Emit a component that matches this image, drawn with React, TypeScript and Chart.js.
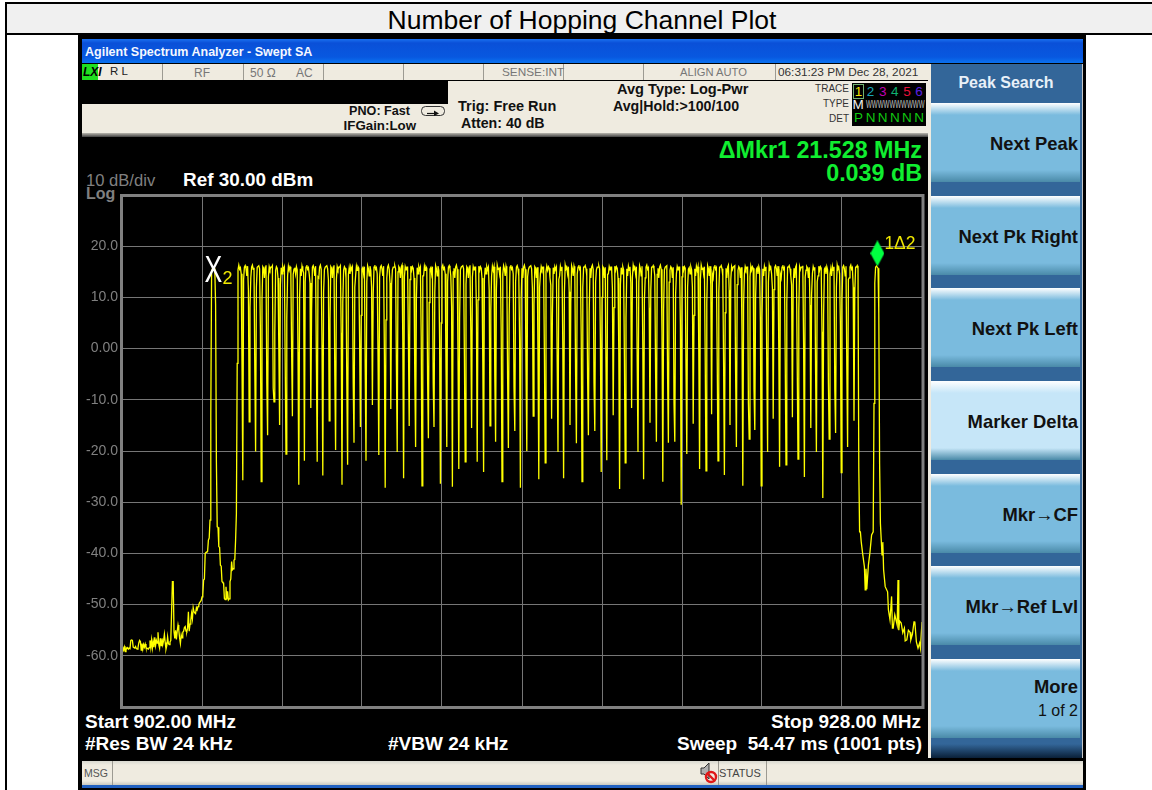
import React, { useEffect, useRef } from "react";
import { Chart, registerables } from "chart.js";

Chart.register(...registerables);

const FONT = '"Liberation Sans", Arial, sans-serif';

const startMHz = 902;
const stopMHz = 928;
const sweepPoints = 1001;
const sampleStepMHz = 0.026;
const firstNotchMHz = 905.932;
const channelSpacingMHz = 0.2005;
const yTickValues = [20, 10, 0, -10, -20, -30, -40, -50, -60];
const yTickLabels = ["20.0", "10.0", "0.00", "-10.0", "-20.0", "-30.0", "-40.0", "-50.0", "-60.0"];

// Noise floor and the first (X2) peak: one value per sweep point
const leftSkirtDb = [
  -58.2, -58.4, -58.9, -58.3, -59.2, -58.4, -58.6, -58.4, -58.7, -58.5,
  -58.6, -57.0, -56.9, -57.0, -58.3, -58.4, -58.5, -58.2, -58.6, -58.7,
  -58.4, -57.5, -57.0, -57.2, -58.9, -57.6, -58.7, -57.8, -58.3, -57.7,
  -58.4, -58.5, -58.6, -58.7, -58.4, -57.0, -58.4, -56.9, -58.5, -57.2,
  -58.3, -56.4, -58.0, -57.0, -57.5, -55.4, -57.8, -58.5, -56.6, -58.0,
  -56.6, -57.8, -57.0, -55.8, -57.4, -58.7, -58.0, -56.3, -57.6, -57.8,
  -57.3, -57.0, -51.4, -45.5, -45.5, -55.3, -56.6, -55.0, -56.8, -55.2,
  -54.0, -55.0, -56.5, -57.6, -55.9, -56.5, -55.4, -55.2, -54.5, -54.3,
  -55.2, -55.3, -54.6, -51.4, -55.2, -53.8, -53.0, -51.7, -52.8, -50.6,
  -51.4, -51.6, -51.7, -50.6, -51.0, -50.4, -50.0, -49.6, -49.4, -49.2,
  -48.5, -48.1, -45.2, -45.0, -40.0, -39.8, -39.7, -39.6, -37.4, -37.0,
  -33.5, -13.3, 15.0, 15.6, 15.9, 15.7, 15.5, 8.5, -22.1, -34.8,
  -34.9, -38.7, -38.8, -42.3, -42.5, -45.5, -45.7, -45.8, -48.8, -49.0,
  -46.5, -49.0, -47.4, -49.1, -48.9, -45.5, -45.0, -41.6, -43.2, -43.0,
  -41.3, -41.2, -37.4, -32.2, -2.9, 15.4,
];

// Deepest value of each notch between hopping channels
const notchFloorDb = [
  -25.7, -14.3, -20.1, -26.0, -16.9, -10.4, -14.9, -20.6, -13.2, -26.6,
  -21.9, -11.6, -22.1, -24.8, -14.1, -19.8, -26.6, -22.7, -18.4, -15.3,
  -21.9, -11.0, -20.8, -27.2, -11.8, -20.2, -25.3, -15.1, -19.2, -26.8,
  -17.5, -15.3, -26.4, -19.2, -27.0, -23.5, -22.1, -15.5, -22.1, -24.1,
  -15.1, -18.2, -26.0, -19.4, -16.1, -27.2, -20.0, -13.2, -25.5, -22.3,
  -13.7, -20.2, -25.3, -14.9, -18.5, -26.0, -16.9, -16.1, -24.1, -21.8,
  -13.0, -27.4, -22.3, -11.6, -20.2, -25.5, -14.5, -18.2, -26.0, -18.4,
  -18.2, -30.5, -20.6, -14.7, -23.5, -23.9, -12.8, -21.9, -24.7, -14.9,
  -19.2, -26.8, -17.7, -15.9, -26.8, -20.2, -13.7, -23.1, -22.7, -13.4,
  -21.6, -25.1, -15.5, -20.2, -29.2, -17.7, -16.5, -24.2, -19.2, -14.1,
];

// Level of the step on the falling side of each notch
const notchShoulderDb = [
  -3.2, 11.4, -4.2, 3.6, -6.7, -7.7, 0.7, -2.8, -0.3, -0.7,
  14.8, 12.8, -2.8, 0.7, 13.4, -5.2, 3.1, -6.5, -6.7, 1.7,
  -3.8, 12.0, -0.9, -1.2, 12.8, -3.2, 1.7, 1.7, -5.7, 2.3,
  -6.1, -6.7, 1.7, -3.8, 8.1, -0.9, -1.6, 3.6, 8.0, -2.6,
  11.4, -5.5, 3.1, -5.7, -7.5, 1.7, -3.8, 11.8, -1.2, -1.2,
  12.4, -3.0, 0.7, 11.1, -5.2, 2.7, -5.7, -6.7, 1.7, -3.6,
  11.8, -0.7, -1.8, 12.8, -2.6, 0.7, 8.0, -4.6, 3.1, -5.7,
  -10.6, 4.6, -3.8, 12.0, -0.7, -1.6, 12.4, -2.0, -3.2, 11.4,
  -4.6, 3.1, -10.6, -7.9, 5.2, -3.8, 11.8, -0.3, -1.8, 12.4,
  -2.8, 0.7, 8.5, -4.8, 3.3, -6.7, -8.1, 4.6, -3.4, 12.0,
];

// Level of the step on the rising side of each notch
const notchRiseDb = [
  13.5, 8.0, 12.0, 9.5, 14.0, 3.0, 12.5, 6.0, 14.5, 10.0,
  13.0, 7.5, 14.0, 11.0, 5.5, 13.5, 9.0, 14.5, 12.0, 6.5,
  13.0, 10.5, 14.0, 5.6, 12.4, 15.0, 14.0, 13.5, 9.9, 14.2,
  9.0, 11.0, 5.0, 13.0, 15.0, 6.0, 12.5, 14.0, 9.5, 13.5,
  7.5, 11.5, 14.5, 6.5, 13.0, 10.0, 14.0, 8.5, 12.0, 15.0,
  6.5, 13.5, 11.0, 9.0, 14.5, 12.0, 7.0, 13.0, 10.0, 14.5,
  8.0, 12.5, 6.0, 14.0, 13.0, 9.5, 11.5, 14.5, 7.5, 13.0,
  10.5, 14.0, 12.0, 6.5, 13.5, 9.0, 14.5, 11.0, 7.0, 13.5,
  12.5, 8.5, 14.0, 10.0, 6.0, 13.0, 11.5, 14.5, 9.0, 12.5,
  7.5, 14.0, 10.5, 13.0, 6.5, 14.5, 12.0, 9.5, 13.5, 11.0,
];

const channelTopDb = [15.9, 16.2, 15.6, 14.2, 16.1, 15.3, 16.0, 15.7, 13.8, 15.9, 16.3, 15.5, 15.8, 14.6, 16.0, 15.4, 15.9];

// Falling edge of the band, the last (marker 1) peak and the noise floor
const rightSkirtSample = [
  921, 922, 923, 924, 925, 926, 928, 929, 930, 931, 933, 935, 937, 939, 940, 941, 942, 943, 944, 945, 946, 947, 948,
  950, 951, 952, 954, 957, 958, 960, 962, 963, 964, 966, 969, 970, 971, 972, 974, 976, 978, 979, 981, 983, 985, 986,
  988, 990, 991, 993, 995, 997, 998, 1000,
];
const rightSkirtDb = [
  -23.4, -35.8, -35.8, -37.7, -37.7, -40.3, -42.6, -47.1, -43.0, -47.0, -42.3, -39.7, -36.4, -35.8, -10.7, 12.8, 15.9, 16.1, 15.9, 15.7, 6.9, -22.4, -34.1,
  -40.3, -37.8, -43.2, -46.5, -47.5, -51.0, -53.0, -48.4, -54.6, -54.6, -52.0, -54.0, -45.2, -55.0, -53.2, -53.6, -55.5, -54.6, -57.1, -56.9, -55.0, -55.4, -56.9,
  -55.8, -53.4, -53.3, -57.3, -58.5, -57.5, -58.5, -53.4,
];

const referenceMarkerMHz = [904.97];
const deltaMarkerMHz = [926.55];
const deltaMarkerDb = [18.6];
const deltaMarkerLabel = "1Δ2";
const referenceMarkerLabel = ["X", "2"];

const softKeys = ["Next Peak", "Next Pk Right", "Next Pk Left", "Marker Delta", "Mkr→CF", "Mkr→Ref Lvl", "More"];
const traceDigits = ["1", "2", "3", "4", "5", "6"];
const traceColors = ["#f4e600", "#19a8b8", "#c000b0", "#10b070", "#e8103a", "#5a20e0"];
const detectors = ["P", "N", "N", "N", "N", "N"];

function buildTrace() {
  const y: number[] = [];
  leftSkirtDb.forEach((v) => y.push(v));
  const lastChannelSample = rightSkirtSample[0] - 1;
  for (let s = y.length; s <= lastChannelSample; s++) y.push(channelTopDb[s % channelTopDb.length]);
  notchFloorDb.forEach((floor, k) => {
    const n = Math.round((firstNotchMHz + k * channelSpacingMHz - startMHz) / sampleStepMHz);
    y[n - 1] = notchShoulderDb[k];
    y[n] = floor;
    y[n + 1] = notchRiseDb[k];
  });
  const pts = y.map((v, s) => ({ x: startMHz + s * sampleStepMHz, y: v }));
  rightSkirtSample.forEach((s, i) => pts.push({ x: startMHz + s * sampleStepMHz, y: rightSkirtDb[i] }));
  return pts;
}

function diamond() {
  const c = document.createElement("canvas");
  c.width = 14;
  c.height = 26;
  const g = c.getContext("2d")!;
  g.fillStyle = "#00ff40";
  g.beginPath();
  g.moveTo(7, 0);
  g.lineTo(14, 13);
  g.lineTo(7, 26);
  g.lineTo(0, 13);
  g.closePath();
  g.fill();
  return c;
}

type LblProps = { x: number; y: number; a?: "l" | "r" | "c"; s?: number; b?: boolean; i?: boolean; c?: string; ls?: number; sx?: number; children: React.ReactNode };
function Lbl({ x, y, a = "l", s = 12, b = false, i = false, c = "#000", ls = 0, sx = 1, children }: LblProps) {
  const tx = a === "c" ? "-50%" : a === "r" ? "-100%" : "0";
  const origin = a === "c" ? "center" : a === "r" ? "right" : "left";
  return (
    <div
      style={{
        position: "absolute",
        left: x,
        top: y,
        transform: `translate(${tx},-50%) scaleX(${sx})`,
        transformOrigin: origin,
        font: `${i ? "italic " : ""}${b ? "bold " : ""}${s}px ${FONT}`,
        color: c,
        letterSpacing: ls,
        whiteSpace: "pre",
        lineHeight: 1,
      }}
    >
      {children}
    </div>
  );
}

function Box({ x, y, w, h, bg, extra }: { x: number; y: number; w: number; h: number; bg: string; extra?: React.CSSProperties }) {
  return <div style={{ position: "absolute", left: x, top: y, width: w, height: h, background: bg, ...extra }} />;
}

const BEIGE = "#efebe0";
const DIV = "#9c9a92";

export default function App() {
  const ref = useRef<HTMLCanvasElement>(null);
  useEffect(() => {
    const markerImg = diamond();
    const overlay = {
      id: "overlay",
      afterDraw(chart: any) {
        const { ctx, chartArea: a, scales } = chart;
        ctx.save();
        ctx.strokeStyle = "#808080";
        ctx.lineWidth = 3;
        ctx.strokeRect(a.left - 0.5, a.top + 0.5, a.right - a.left + 1.5, a.bottom - a.top);
        const px = scales.x.getPixelForValue(referenceMarkerMHz[0]);
        const dx = scales.x.getPixelForValue(deltaMarkerMHz[0]);
        const dy = scales.y.getPixelForValue(deltaMarkerDb[0]);
        ctx.textBaseline = "alphabetic";
        ctx.fillStyle = "#ffffff";
        ctx.font = `37px ${FONT}`;
        ctx.save();
        ctx.translate(px - 9, 282);
        ctx.scale(0.72, 1);
        ctx.fillText(referenceMarkerLabel[0], 0, 0);
        ctx.restore();
        ctx.fillStyle = "#f0e800";
        ctx.font = `18px ${FONT}`;
        ctx.fillText(referenceMarkerLabel[1], px + 9, 284);
        ctx.font = `17.5px ${FONT}`;
        ctx.fillText(deltaMarkerLabel, dx + 7, dy - 4);
        ctx.restore();
      },
    };
    const chart = new Chart(ref.current!, {
      type: "line",
      data: {
        datasets: [
          {
            data: buildTrace(),
            borderColor: "#ffff00",
            borderWidth: 1.3,
            pointRadius: 0,
            tension: 0,
            fill: false,
          },
          {
            data: deltaMarkerMHz.map((x, i) => ({ x, y: deltaMarkerDb[i] })),
            showLine: false,
            pointStyle: markerImg as any,
            pointRadius: 7,
            borderWidth: 0,
          },
        ],
      },
      options: {
        animation: false,
        responsive: false,
        events: [],
        layout: { padding: { left: 80, top: 195, right: 230, bottom: 83 } },
        plugins: { legend: { display: false }, title: { display: false }, tooltip: { enabled: false } },
        scales: {
          x: {
            type: "linear",
            min: startMHz,
            max: stopMHz,
            ticks: { stepSize: 2.6, display: false, includeBounds: true },
            grid: { color: "#767676", lineWidth: 1, drawTicks: false },
            border: { display: false },
            afterFit: (s: any) => { s.height = 0; },
          },
          y: {
            type: "linear",
            min: -70,
            max: 30,
            ticks: {
              stepSize: 10,
              padding: 4,
              color: "#808080",
              font: { family: "Liberation Sans", size: 14 },
              callback: (v: any) => {
                const i = yTickValues.indexOf(Number(v));
                return i >= 0 ? yTickLabels[i] : "";
              },
            },
            grid: { color: "#767676", lineWidth: 1, drawTicks: false },
            border: { display: false },
            afterFit: (s: any) => { s.width = 42; },
          },
        },
      },
      plugins: [overlay],
    } as any);
    return () => chart.destroy();
  }, []);

  const keyTop = (i: number) => 103 + Math.round(i * 92.67);

  return (
    <div style={{ position: "fixed", left: 0, top: 0, width: 1152, height: 790, background: "#fff", overflow: "hidden" }}>
      {/* document table */}
      <Box x={5} y={2} w={1147} h={2} bg="#000" />
      <Box x={7} y={4} w={1145} h={29} bg="#f0f0f0" />
      <Box x={5} y={33} w={1147} h={2} bg="#000" />
      <Box x={5} y={2} w={2} h={788} bg="#000" />
      <Lbl x={582} y={20} a="c" s={26.5}>Number of Hopping Channel Plot</Lbl>

      {/* instrument frame */}
      <Box x={78} y={35} w={1008} h={755} bg="#000" />
      <Box x={82} y={39} w={1001} h={24} bg="linear-gradient(#1a70f0 0,#0a50d8 4px,#0858e0 18px,#0a72f0 24px)" />
      <Lbl x={85} y={52} s={12.5} b c="#f4f8ff">Agilent Spectrum Analyzer - Swept SA</Lbl>

      {/* status row */}
      <Box x={82} y={64} w={846} h={16} bg={BEIGE} />
      <Box x={82} y={64} w={16} h={16} bg="#20e020" />
      <Lbl x={83} y={72} s={12} b i c="#000">LXI</Lbl>
      <Lbl x={110} y={72} s={11.5} c="#222">R L</Lbl>
      {[162, 243, 323, 403, 483, 563, 643, 775].map((x) => (
        <Box key={x} x={x} y={64} w={1} h={16} bg={DIV} />
      ))}
      <Lbl x={202} y={73} a="c" s={12} c="#777">RF</Lbl>
      <Lbl x={250} y={73} s={12} c="#777">50 Ω</Lbl>
      <Lbl x={296} y={73} s={12} c="#777">AC</Lbl>
      <Lbl x={502} y={73} s={11.8} c="#777">SENSE:INT</Lbl>
      <Lbl x={680} y={73} s={11.2} c="#777">ALIGN AUTO</Lbl>
      <Lbl x={778} y={73} s={11.8} c="#333">06:31:23 PM Dec 28, 2021</Lbl>

      {/* settings block */}
      <Box x={82} y={81} w={846} h={52} bg={BEIGE} />
      <Box x={82} y={81} w={366} h={23} bg="#000" />
      <Box x={82} y={133} w={846} h={4} bg="linear-gradient(#b8b6ae,#404040)" />
      <Lbl x={410} y={111} a="r" s={12.6} b c="#111">PNO: Fast</Lbl>
      <Lbl x={416} y={126} a="r" s={13.3} b c="#111">IFGain:Low</Lbl>
      <svg style={{ position: "absolute", left: 421, top: 104, width: 24, height: 14 }} viewBox="0 0 24 14">
        <rect x="0.5" y="2.5" width="23" height="9" rx="4" fill="none" stroke="#333" />
        <path d="M6 9.5H15" stroke="#111" strokeWidth="1.2" />
        <path d="M13 6.5L18 9.5L13 12z" fill="#111" />
      </svg>
      <Lbl x={458} y={106} s={14.5} b c="#111">Trig: Free Run</Lbl>
      <Lbl x={461} y={123} s={14.2} b c="#111">Atten: 40 dB</Lbl>
      <Lbl x={617} y={89} s={14.6} b c="#111">Avg Type: Log-Pwr</Lbl>
      <Lbl x={613} y={106} s={14.2} b c="#111">Avg|Hold:&gt;100/100</Lbl>
      <Lbl x={849} y={89} a="r" s={10} c="#333">TRACE</Lbl>
      <Lbl x={849} y={104} a="r" s={10} c="#333">TYPE</Lbl>
      <Lbl x={849} y={119} a="r" s={10} c="#333">DET</Lbl>
      <Box x={852} y={83} w={74} h={43} bg="#000" />
      <Box x={853} y={84} w={11} h={15} bg="transparent" extra={{ border: "1px solid #70b070", boxSizing: "border-box" }} />
      {traceDigits.map((d, i) => (
        <Lbl key={i} x={858.5 + i * 12.1} y={92} a="c" s={13.5} c={traceColors[i]}>{d}</Lbl>
      ))}
      <Lbl x={858} y={105} a="c" s={13.5} c="#f0f0f0">M</Lbl>
      <Lbl x={866} y={105} s={10} c="#c4c4c4" sx={0.62}>WWWWWWWWWW</Lbl>
      {detectors.map((d, i) => (
        <Lbl key={i} x={858.5 + i * 12.1} y={118} a="c" s={13.5} c="#10c810">{d}</Lbl>
      ))}

      {/* readouts */}
      <Lbl x={922} y={151} a="r" s={23.3} b c="#10ee30">ΔMkr1 21.528 MHz</Lbl>
      <Lbl x={922} y={174} a="r" s={23.3} b c="#10ee30">0.039 dB</Lbl>
      <Lbl x={86} y={181} s={16.6} c="#808080">10 dB/div</Lbl>
      <Lbl x={86} y={194} s={16} c="#808080" b>Log</Lbl>
      <Lbl x={183} y={180} s={18.9} b c="#fff">Ref 30.00 dBm</Lbl>
      <Lbl x={85} y={721} s={19} b c="#fff">Start 902.00 MHz</Lbl>
      <Lbl x={921} y={721} a="r" s={19} b c="#fff">Stop 928.00 MHz</Lbl>
      <Lbl x={85} y={743} s={19} b c="#fff">#Res BW 24 kHz</Lbl>
      <Lbl x={388} y={743} s={19} b c="#fff">#VBW 24 kHz</Lbl>
      <Lbl x={922} y={743} a="r" s={19} b c="#fff">Sweep  54.47 ms (1001 pts)</Lbl>

      {/* softkeys */}
      <Box x={928} y={64} w={3} h={694} bg={BEIGE} />
      <Box x={931} y={64} w={151} h={694} bg="linear-gradient(#336699 0,#336699 680px,#0a2038 694px)" />
      <Box x={1082} y={64} w={1} h={694} bg="#c8c8c8" />
      <Lbl x={1006} y={83} a="c" s={16} b c="#e8f0f8">Peak Search</Lbl>
      {softKeys.map((k, i) => {
        const light = k === "Marker Delta";
        const mid = light ? "#c6e6f8" : "#7abbde";
        return (
          <React.Fragment key={k}>
            <Box
              x={931}
              y={keyTop(i)}
              w={149}
              h={79}
              bg={`linear-gradient(#ffffff 0,${mid} 12px,${mid} 67px,#4a8aa8 79px)`}
            />
            <Lbl x={1078} y={k === "More" ? 687 : keyTop(i) + 41} a="r" s={18.4} b c="#111">{k}</Lbl>
          </React.Fragment>
        );
      })}
      <Lbl x={1078} y={711} a="r" s={16} c="#111">1 of 2</Lbl>

      {/* message bar */}
      <Box x={82} y={761} w={1001} h={24} bg="linear-gradient(#d8d8d0,#efebe0 4px,#efebe0 20px,#c8c8c0)" />
      <Box x={82} y={785} w={1001} h={3} bg="#2060c0" />
      <Box x={112} y={761} w={1} h={24} bg={DIV} />
      <Box x={718} y={761} w={1} h={24} bg={DIV} />
      <Box x={766} y={761} w={1} h={24} bg={DIV} />
      <Lbl x={84} y={773} s={10.5} c="#555">MSG</Lbl>
      <Lbl x={719} y={773} s={11} c="#444">STATUS</Lbl>
      <svg style={{ position: "absolute", left: 698, top: 760, width: 20, height: 26 }} viewBox="0 0 20 26">
        <path d="M3 8h3l5-5v16l-5-5H3z" fill="#b0b0b0" stroke="#333" strokeWidth="1" />
        <circle cx="13" cy="17" r="5" fill="none" stroke="#e01818" strokeWidth="2.4" />
        <line x1="9.5" y1="13.5" x2="16.5" y2="20.5" stroke="#e01818" strokeWidth="2.4" />
      </svg>

      <canvas
        ref={ref}
        width={1152}
        height={790}
        style={{ position: "absolute", left: 0, top: 0, width: 1152, height: 790, pointerEvents: "none" }}
      />
    </div>
  );
}
